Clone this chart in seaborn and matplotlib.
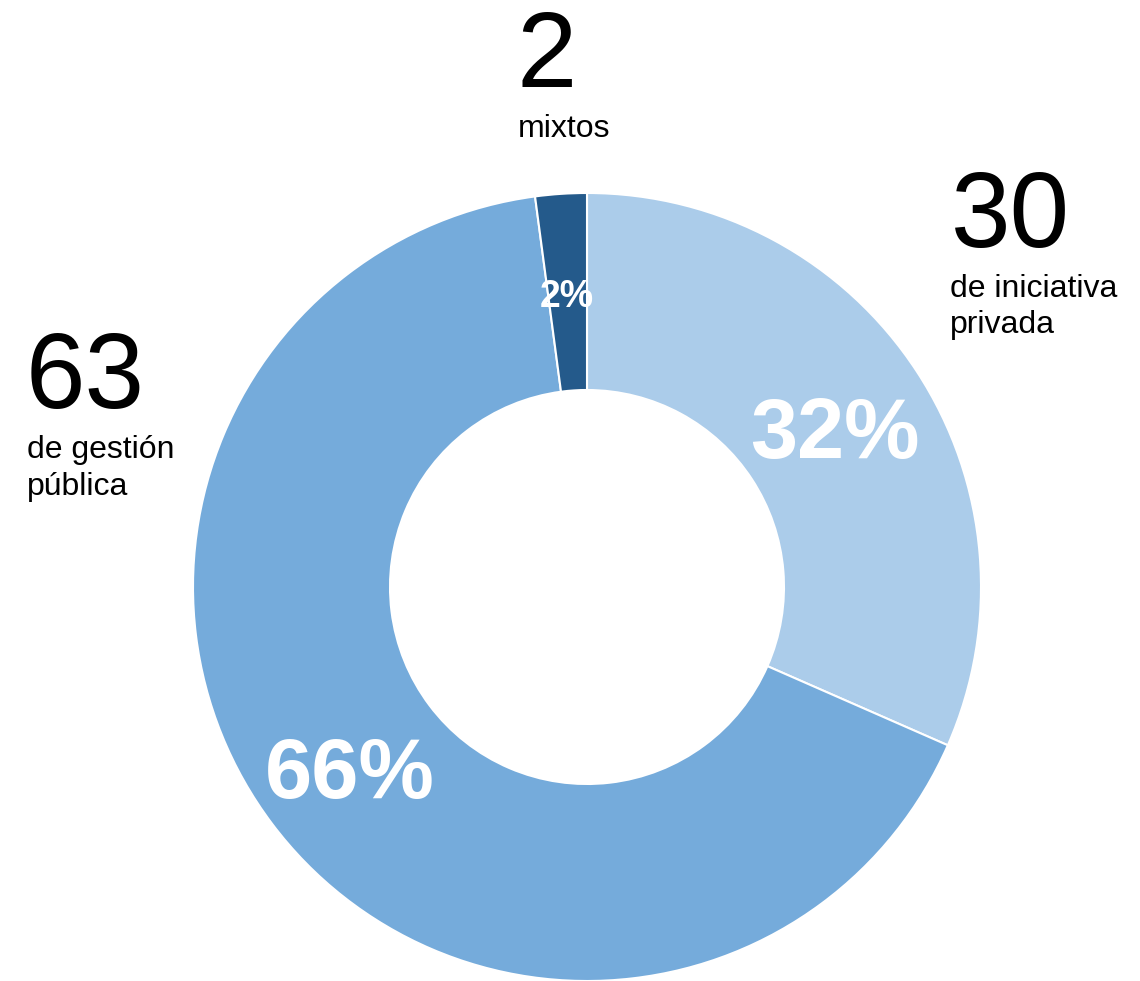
import matplotlib
matplotlib.use("Agg")
import matplotlib.pyplot as plt
import seaborn as sns

# Centros por tipo de gestión
categories = ["de iniciativa\nprivada", "de gestión\npública", "mixtos"]
counts = [30, 63, 2]
colors = ["#ABCCEA", "#75ABDB", "#245A8B"]

sns.set_theme(style="white")
plt.rcParams["font.family"] = ["Liberation Sans", "DejaVu Sans"]

W, H = 1140, 981
fig = plt.figure(figsize=(W / 100, H / 100), dpi=100)
ax = fig.add_axes([0, 0, 1, 1])

# donut geometry in pixels
cx, cy, r = 587, 587, 394
ax.pie(counts, colors=colors, startangle=90, counterclock=False, radius=1,
       wedgeprops=dict(width=0.5, edgecolor="white", linewidth=1.5))
ax.set_xlim(-cx / r, (W - cx) / r)
ax.set_ylim(-(H - cy) / r, cy / r)
ax.set_aspect("auto")
ax.axis("off")

total = sum(counts)
pcts = [f"{round(100 * c / total)}%" for c in counts]


def put(x, y, s, **kw):
    fig.text(x / W, 1 - y / H, s, va="baseline", **kw)


def put_lines(x, y, s, step, **kw):
    for i, line in enumerate(s.split("\n")):
        put(x, y + i * step, line, **kw)


# percentage labels inside the ring
put(835, 458, pcts[0], ha="center", color="white", fontsize=61, fontweight="bold")
put(350, 798, pcts[1], ha="center", color="white", fontsize=61, fontweight="bold")
put(567, 307, pcts[2], ha="center", color="white", fontsize=27, fontweight="bold")

# outer count labels
put(547, 87, str(counts[2]), ha="center", color="black", fontsize=78)
put_lines(518, 137, categories[2], 36, ha="left", color="black", fontsize=23)

put(951, 247, str(counts[0]), ha="left", color="black", fontsize=77)
put_lines(950, 297, categories[0], 36, ha="left", color="black", fontsize=23)

put(26, 408, str(counts[1]), ha="left", color="black", fontsize=77)
put_lines(27, 458, categories[1], 37, ha="left", color="black", fontsize=23)

fig.savefig("out.png", dpi=100, facecolor="white")
